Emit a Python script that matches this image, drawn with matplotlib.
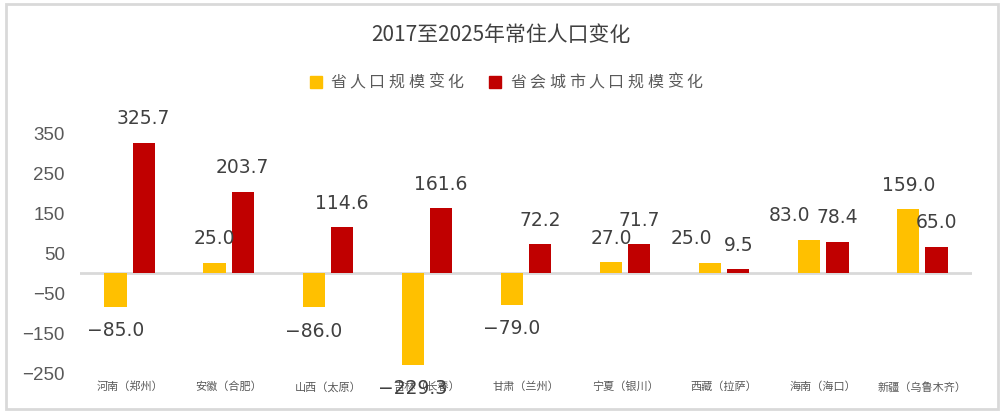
#!/usr/bin/env python3

import numpy as np
import matplotlib
matplotlib.use("Agg")
import matplotlib.pyplot as plt
from matplotlib.patches import Rectangle

plt.rcParams['font.family'] = ['Noto Sans CJK SC', 'DejaVu Sans']

# data
cities = ['河南（郑州）', '安徽（合肥）', '山西（太原）', '吉林（长春）', '甘肃（兰州）',
          '宁夏（银川）', '西藏（拉萨）', '海南（海口）', '新疆（乌鲁木齐）']
province_change = [-85.0, 25.0, -86.0, -229.3, -79.0, 27.0, 25.0, 83.0, 159.0]
capital_change = [325.7, 203.7, 114.6, 161.6, 72.2, 71.7, 9.5, 78.4, 65.0]
ytick_vals = [350, 250, 150, 50, -50, -150, -250]

YELLOW = '#FFC000'
RED = '#C00000'
TXT = '#404040'
GRAY = '#595959'

W, H = 1005, 416
fig = plt.figure(figsize=(W / 100, H / 100), dpi=100)


def spaced_text(x_px, y_px, s, pitch, **kw):
    """draw text char by char with a fixed pitch (pixels)"""
    for i, ch in enumerate(s):
        fig.text((x_px + i * pitch) / W, 1 - y_px / H, ch, ha='left', va='center', **kw)


# outer frame
fig.patches.append(Rectangle((6 / W, 1 - 409 / H), 992 / W, 405 / H,
                             transform=fig.transFigure, fill=False,
                             edgecolor='#D9D9D9', linewidth=2))

# axes placed so that 0 sits at y=273px and 100 units = 40px
ymin, ymax = -320, 400
bottom_px = 273 - 0.4 * ymin
top_px = 273 - 0.4 * ymax
ax = fig.add_axes([80 / W, 1 - bottom_px / H, 892 / W, (bottom_px - top_px) / H])

x = np.arange(len(cities))
bw = 0.225
off = 0.1425
ax.bar(x - off, province_change, bw, color=YELLOW, zorder=3)
ax.bar(x + off, capital_change, bw, color=RED, zorder=3)

ax.set_xlim(-0.5, len(cities) - 0.5)
ax.set_ylim(ymin, ymax)
ax.axhline(0, color='#D9D9D9', linewidth=2, zorder=2)

for s in ax.spines.values():
    s.set_visible(False)
ax.set_xticks([])
ax.set_yticks(ytick_vals)
ax.set_yticklabels([str(v).replace('-', '\u2212') for v in ytick_vals],
                   fontsize=13.5, color=GRAY, family='Liberation Sans')
ax.tick_params(axis='y', length=0, pad=11)

# value labels (a couple of province labels were nudged left in the original)
prov_dx = [0, 0, 0, 0, 0, 0, -0.19, -0.2, 0]
lab_off = 60  # data units (~24px)
for xs, vals, dxs in ((x - off, province_change, prov_dx),
                      (x + off, capital_change, [0] * len(cities))):
    for xi, v, dx in zip(xs, vals, dxs):
        y = v + lab_off if v >= 0 else v - lab_off
        ax.text(xi + dx, y, f'{v:.1f}'.replace('-', '\u2212'), ha='center', va='center',
                fontsize=13.5, color=TXT, family='DejaVu Sans', zorder=5,
                clip_on=False)

# category labels
for xi, c in zip(x, cities):
    ax.text(xi, -285, c, ha='center', va='center', fontsize=8, color=GRAY,
            clip_on=False)

# title
fig.text(501 / W, 1 - 35 / H, '2017至2025年常住人口变化', ha='center', va='center',
         fontsize=15, color=TXT)

# legend
ly = 82
fig.patches.append(Rectangle((310 / W, 1 - (ly + 6) / H), 12 / W, 12 / H,
                             transform=fig.transFigure, color=YELLOW))
spaced_text(330, ly, '省人口规模变化', 19.6, fontsize=11.5, color=GRAY)
fig.patches.append(Rectangle((489 / W, 1 - (ly + 6) / H), 12 / W, 12 / H,
                             transform=fig.transFigure, color=RED))
spaced_text(510, ly, '省会城市人口规模变化', 19.6, fontsize=11.5, color=GRAY)

fig.savefig('out.png', dpi=100)
